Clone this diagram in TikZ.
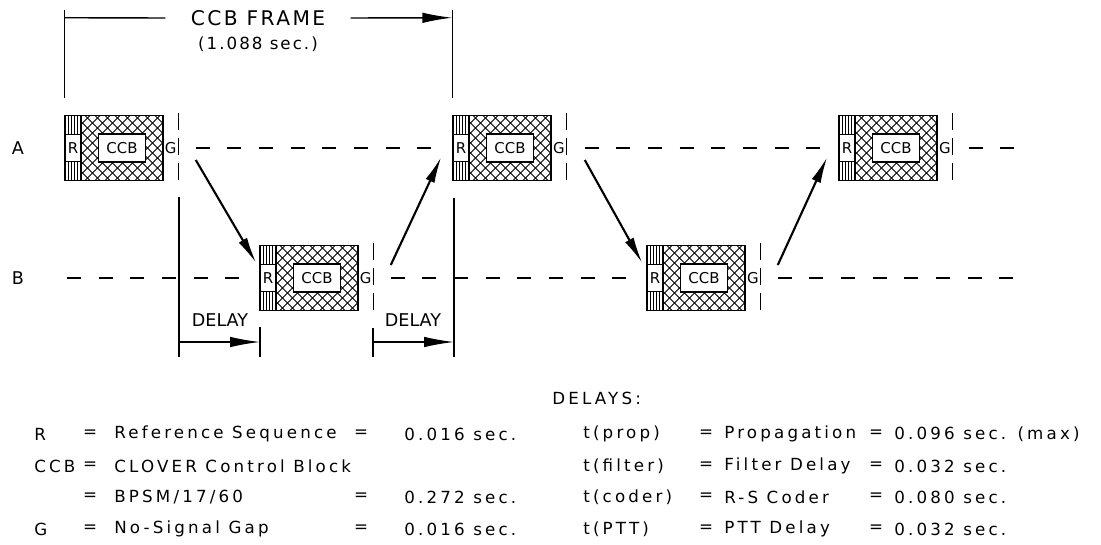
\documentclass[tikz,border=0pt]{standalone}
\usepackage{fontspec}
\setmainfont{DejaVu Sans}
\newfontfamily\widefont{DejaVu Sans}[LetterSpace=12]
\newfontfamily\legendfont{DejaVu Sans}[LetterSpace=19]
\usetikzlibrary{arrows.meta,positioning}

\begin{document}
\begin{tikzpicture}[x=0.02cm, y=-0.02cm, >={Latex[length=15pt,width=5.5pt]},
  every node/.style={font=\fontsize{9.5}{11}\selectfont},
  hatch/.style={line width=0.45pt},
  blk/.style={draw, line width=0.9pt, minimum width=1.96cm, minimum height=1.3cm, inner sep=0pt,
    path picture={
      \begin{scope}
        \clip ([xshift=0.32cm]path picture bounding box.south west) rectangle (path picture bounding box.north east);
        \foreach \k in {-8,...,11}{
          \draw[hatch] ([xshift=\k*0.2cm]path picture bounding box.south west) -- ++(2cm,2cm);
          \draw[hatch] ([xshift=\k*0.2cm]path picture bounding box.north west) -- ++(2cm,-2cm);
        }
      \end{scope}}},
  rstrip/.style={draw, fill=white, line width=0.9pt, minimum width=0.32cm, minimum height=1.3cm, inner sep=0pt, anchor=west,
    path picture={\foreach \k in {1,...,4}
      \draw[hatch] ([xshift=\k*0.064cm]path picture bounding box.south west) -- ([xshift=\k*0.064cm]path picture bounding box.north west);}},
  rbox/.style={draw, fill=white, line width=0.7pt, minimum width=0.32cm, minimum height=0.54cm, inner sep=0pt, font=\fontsize{8.5}{10}\selectfont},
  ccbbox/.style={draw, fill=white, line width=0.9pt, minimum width=0.94cm, minimum height=0.56cm, inner sep=0pt, font=\fontsize{8.5}{10}\selectfont},
  glabel/.style={inner sep=0pt, font=\fontsize{8.5}{10}\selectfont},
  gline/.style={line width=0.8pt, dash pattern=on 9.7pt off 4.5pt},
  rowline/.style={line width=0.8pt, dash pattern=on 8pt off 10pt},
  ext/.style={line width=0.8pt},
  sig/.style={->, line width=1.2pt},
  dim/.style={-{Latex[length=17pt,width=6pt]}, line width=0.8pt},
  tbl/.style={anchor=west, inner sep=0pt, font=\legendfont\fontsize{9.5}{11}\selectfont},
  eq/.style={inner sep=0pt, font=\legendfont\fontsize{9.5}{11}\selectfont}]
\useasboundingbox (0,0) rectangle (1101,544);

% time slots on the two stations
\foreach \nm/\cx/\cy in {a1/114/148, a2/502/148, a3/888/148, b1/309/278, b2/696/278}{
  \node[blk] (\nm) at (\cx,\cy) {};
  \node[rstrip] (\nm-r) at (\nm.west) {};
  \node[rbox] (\nm-rl) at (\nm-r) {R};
  \node[ccbbox] (\nm-c) at ([xshift=0.16cm]\nm.center) {CCB};
  \node[glabel] (\nm-g) at ([xshift=0.14cm]\nm.east) {G};
  \draw[gline] ([xshift=0.3cm,yshift=0.04cm]\nm.north east) -- ([xshift=0.3cm,yshift=-0.04cm]\nm.south east);
}
\node[font=\fontsize{10}{12}\selectfont] (lblA) at (18,148) {A};
\node[font=\fontsize{10}{12}\selectfont] (lblB) at (18,278) {B};

\coordinate (arowend) at (1020,148);
\coordinate (browbeg) at (67,278);
\coordinate (browend) at (1020,278);
\draw[rowline] ([xshift=0.64cm]a1.east) -- ([xshift=-0.24cm]a2.west);
\draw[rowline] ([xshift=0.66cm]a2.east) -- ([xshift=-0.24cm]a3.west);
\draw[rowline] ([xshift=0.62cm]a3.east) -- (arowend);
\draw[rowline] (browbeg) -- ([xshift=-0.1cm]b1.west);
\draw[rowline] ([xshift=0.64cm]b1.east) -- ([xshift=-0.24cm]b2.west);
\draw[rowline] ([xshift=0.64cm]b2.east) -- (browend);

\draw[sig] ([xshift=0.64cm,yshift=-0.24cm]a1.east) -- ([xshift=-0.06cm,yshift=0.3cm]b1.west);
\draw[sig] ([xshift=0.64cm,yshift=0.26cm]b1.east) -- ([xshift=-0.22cm,yshift=-0.18cm]a2.west);
\draw[sig] ([xshift=0.66cm,yshift=-0.24cm]a2.east) -- ([xshift=-0.08cm,yshift=0.3cm]b2.west);
\draw[sig] ([xshift=0.64cm,yshift=0.26cm]b2.east) -- ([xshift=-0.22cm,yshift=-0.18cm]a3.west);

% frame length
\draw[ext] ([yshift=0.34cm]a1.north west) -- ([yshift=2.1cm]a1.north west);
\draw[ext] ([yshift=0.34cm]a2.north west) -- ([yshift=2.1cm]a2.north west);
\node[inner sep=0pt, inner xsep=0.5cm, font=\widefont\fontsize{11.5}{13}\selectfont] (frame) at (258,18) {CCB FRAME};
\node[inner sep=0pt, font=\widefont\fontsize{9.5}{11}\selectfont] (framelen) at (258,44) {(1.088 sec.)};
\draw[ext] ([yshift=1.94cm]a1.north west) -- (frame.west);
\draw[dim] (frame.east) -- ([yshift=1.94cm]a2.north west);

% delays
\coordinate (d1s) at (179,342);
\coordinate (d1e) at (260,342);
\coordinate (d2s) at (373,342);
\coordinate (d2e) at (454,342);
\draw[ext] (179,197) -- (179,357);
\draw[ext] (260,327) -- (260,357);
\draw[ext] (373,328) -- (373,357);
\draw[ext] (454,198) -- (454,357);
\draw[dim] (d1s) -- (d1e);
\draw[dim] (d2s) -- (d2e);
\node[font=\fontsize{10}{12}\selectfont] (delay1) at (220,320) {DELAY};
\node[font=\fontsize{10}{12}\selectfont] (delay2) at (413,320) {DELAY};

% legend
\node[tbl] (symR) at (34,434) {R};
\node[eq] (eqR) at (90,434) {=};
\node[tbl] (txtR) at (114,434) {Reference Sequence};
\node[eq] (eqR2) at (361,434) {=};
\node[tbl] (valR) at (404,434) {0.016 sec.};
\node[tbl] (symC) at (34,466) {CCB};
\node[eq] (eqC) at (90,466) {=};
\node[tbl] (txtC) at (114,466) {CLOVER Control Block};
\node[eq] (eqB) at (90,497) {=};
\node[tbl] (txtB) at (114,497) {BPSM/17/60};
\node[eq] (eqB2) at (361,497) {=};
\node[tbl] (valB) at (404,497) {0.272 sec.};
\node[tbl] (symG) at (34,529) {G};
\node[eq] (eqG) at (90,529) {=};
\node[tbl] (txtG) at (114,529) {No-Signal Gap};
\node[eq] (eqG2) at (361,529) {=};
\node[tbl] (valG) at (404,529) {0.016 sec.};

\node[tbl] (delays) at (552,398) {DELAYS:};
\foreach \n/\y/\t/\d/\v in {prop/434/t(prop)/Propagation/{0.096 sec. (max)},
    filter/466/t(filter)/Filter Delay/0.032 sec., coder/497/t(coder)/R-S Coder/0.080 sec.,
    ptt/529/t(PTT)/PTT Delay/0.032 sec.}{
  \node[tbl] (t-\n) at (583,\y) {\t};
  \node[eq] (e-\n) at (706,\y) {=};
  \node[tbl] (d-\n) at (724,\y) {\d};
  \node[eq] (f-\n) at (876,\y) {=};
  \node[tbl] (v-\n) at (894,\y) {\v};
}
\end{tikzpicture}
\end{document}
